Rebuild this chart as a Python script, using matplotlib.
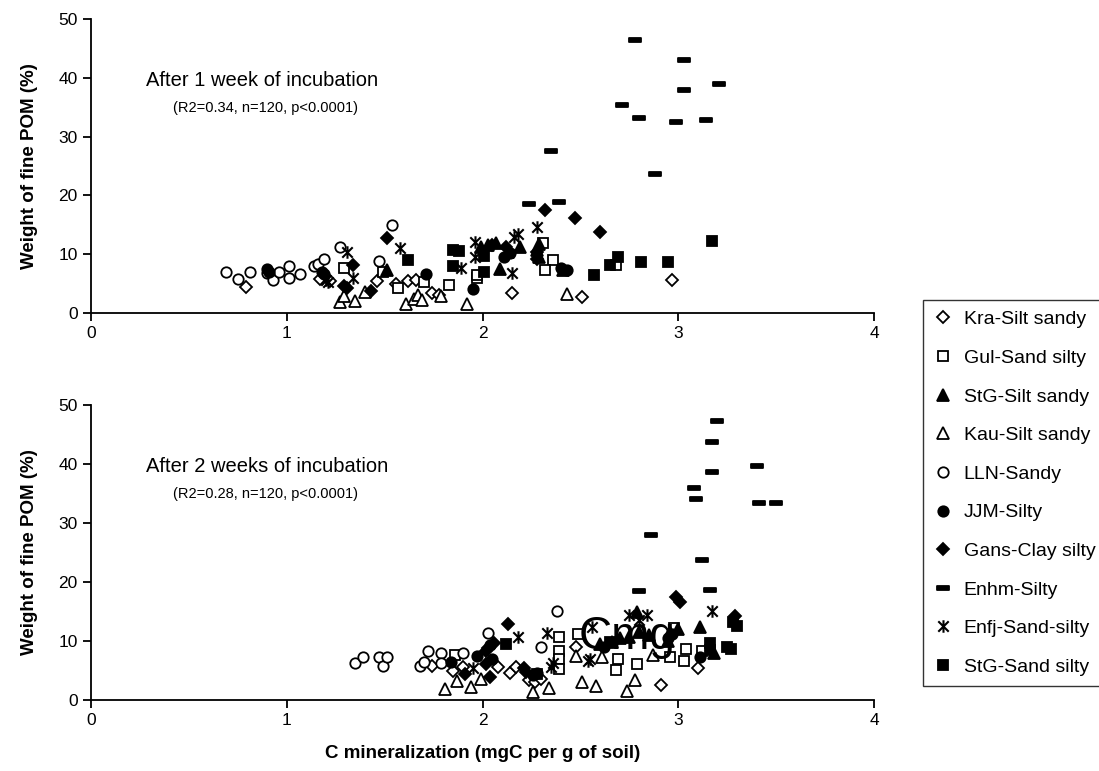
import matplotlib
matplotlib.use("Agg")
import matplotlib.pyplot as plt
from matplotlib.path import Path
from matplotlib.lines import Line2D

plt.rcParams['font.family'] = ['Liberation Sans', 'DejaVu Sans']

# soils in legend order
soils = ["Kra-Silt sandy", "Gul-Sand silty", "StG-Silt sandy", "Kau-Silt sandy", "LLN-Sandy",
         "JJM-Silty", "Gans-Clay silty", "Enhm-Silty", "Enfj-Sand-silty", "StG-Sand silty"]

# --- after 1 week ---
w1_kra_x = [0.79, 1.17, 1.22, 1.46, 1.56, 1.62, 1.66, 1.74, 1.78, 2.15, 2.51, 2.97]
w1_kra_y = [4.5, 5.8, 5.4, 5.4, 5.0, 5.4, 5.6, 3.4, 3.1, 3.4, 2.7, 5.6]
w1_gul_x = [1.29, 1.49, 1.57, 1.70, 1.83, 1.97, 1.97, 2.31, 2.36, 2.32, 2.68]
w1_gul_y = [7.6, 7.0, 4.2, 5.3, 4.7, 5.9, 6.4, 11.9, 9.0, 7.4, 8.2]
w1_stgsilt_x = [1.51, 1.99, 2.03, 2.07, 2.09, 2.19, 2.13, 2.28, 2.29, 2.41, 2.29]
w1_stgsilt_y = [7.4, 11.3, 11.5, 11.9, 7.5, 11.3, 10.4, 10.8, 11.8, 7.4, 9.6]
w1_kau_x = [1.27, 1.29, 1.35, 1.40, 1.61, 1.65, 1.67, 1.69, 1.79, 1.92, 2.43]
w1_kau_y = [1.9, 2.9, 2.0, 3.6, 1.5, 2.4, 3.0, 2.2, 2.9, 1.5, 3.3]
w1_lln_x = [0.69, 0.75, 0.81, 0.90, 0.93, 0.96, 1.01, 1.01, 1.07, 1.14, 1.16, 1.19, 1.27, 1.54, 1.47]
w1_lln_y = [7.0, 5.8, 7.0, 6.8, 5.6, 7.0, 8.0, 5.9, 6.6, 8.0, 8.3, 9.2, 11.2, 14.9, 8.8]
w1_jjm_x = [0.90, 0.91, 1.19, 1.18, 1.71, 1.95, 2.14, 2.11, 2.43, 2.40]
w1_jjm_y = [7.5, 7.0, 6.6, 6.9, 6.6, 4.1, 10.2, 9.5, 7.3, 7.6]
w1_gans_x = [2.32, 2.47, 2.60, 2.28, 2.28, 1.51, 1.34, 1.29, 1.43, 2.05, 2.12, 1.31]
w1_gans_y = [17.5, 16.1, 13.7, 9.2, 10.4, 12.7, 8.1, 4.6, 3.8, 11.5, 11.2, 4.2]
w1_enhm_x = [2.78, 3.03, 3.21, 3.03, 2.71, 2.80, 2.99, 3.14, 2.88, 2.35, 2.24, 2.39]
w1_enhm_y = [46.4, 43.0, 39.0, 38.0, 35.3, 33.2, 32.5, 32.9, 23.6, 27.5, 18.6, 18.8]
w1_enfj_x = [1.21, 1.31, 1.34, 1.58, 1.89, 1.96, 1.96, 2.15, 2.18, 2.28, 1.20, 2.16]
w1_enfj_y = [5.3, 10.3, 5.9, 11.0, 7.6, 12.0, 9.5, 6.8, 13.4, 14.7, 5.6, 13.0]
w1_stgsand_x = [3.17, 2.69, 2.65, 2.81, 2.95, 2.57, 1.85, 1.85, 2.01, 2.01, 1.62, 1.88]
w1_stgsand_y = [12.2, 9.5, 8.1, 8.6, 8.6, 6.4, 10.7, 8.0, 9.7, 6.9, 9.1, 10.6]

# --- after 2 weeks ---
w2_kra_x = [1.74, 1.85, 1.90, 2.08, 2.14, 2.17, 2.24, 2.27, 2.48, 2.91, 3.10, 2.30]
w2_kra_y = [5.8, 4.9, 5.6, 5.6, 4.6, 5.6, 3.4, 3.1, 9.0, 2.5, 5.4, 3.6]
w2_gul_x = [1.86, 2.28, 2.39, 2.39, 2.39, 2.39, 2.49, 2.69, 2.68, 2.79, 2.98, 3.04, 2.96, 3.03, 3.12]
w2_gul_y = [7.6, 4.4, 10.7, 8.3, 6.9, 5.3, 11.2, 6.9, 5.0, 6.1, 12.2, 8.6, 7.3, 6.6, 8.3]
w2_stgsilt_x = [2.60, 2.70, 2.75, 2.79, 2.80, 2.96, 3.11, 3.18, 2.66, 2.95, 2.85, 3.00]
w2_stgsilt_y = [9.5, 10.5, 10.7, 14.9, 11.5, 11.5, 12.4, 8.0, 9.8, 10.0, 11.0, 12.0]
w2_kau_x = [1.81, 1.87, 1.94, 1.99, 2.26, 2.34, 2.51, 2.58, 2.74, 2.78, 2.48, 2.61, 2.87]
w2_kau_y = [1.9, 3.2, 2.2, 3.6, 1.4, 2.0, 3.1, 2.4, 1.5, 3.4, 7.4, 7.3, 7.6]
w2_lln_x = [1.35, 1.39, 1.47, 1.49, 1.51, 1.68, 1.70, 1.72, 1.79, 1.79, 1.90, 2.03, 2.04, 2.30, 2.38]
w2_lln_y = [6.3, 7.3, 7.3, 5.8, 7.3, 5.8, 6.4, 8.3, 8.0, 6.3, 8.0, 11.4, 9.3, 9.0, 15.1]
w2_jjm_x = [1.84, 1.97, 2.26, 3.11, 2.97, 2.95, 2.05, 2.62, 2.28]
w2_jjm_y = [6.4, 7.5, 4.2, 7.3, 11.2, 10.5, 6.9, 9.0, 4.5]
w2_gans_x = [1.91, 2.02, 2.02, 2.04, 2.13, 2.21, 2.99, 3.01, 3.29, 2.03, 2.06, 2.22]
w2_gans_y = [4.4, 8.3, 6.1, 3.9, 12.9, 5.4, 17.5, 16.6, 14.2, 8.8, 9.6, 4.8]
w2_enhm_x = [3.20, 3.17, 3.40, 3.17, 3.08, 3.09, 3.41, 3.50, 2.86, 3.12, 2.80, 3.16]
w2_enhm_y = [47.3, 43.8, 39.7, 38.6, 35.9, 34.0, 33.4, 33.4, 28.0, 23.7, 18.4, 18.7]
w2_enfj_x = [1.95, 2.18, 2.33, 2.36, 2.54, 2.56, 2.75, 2.84, 3.17, 2.35, 2.55, 2.80]
w2_enfj_y = [5.4, 10.7, 11.3, 6.2, 6.6, 12.4, 14.4, 14.4, 15.1, 5.6, 7.0, 13.5]
w2_stgsand_x = [2.12, 2.65, 3.16, 3.16, 3.25, 3.27, 3.30, 3.28]
w2_stgsand_y = [9.5, 9.8, 9.7, 8.5, 9.0, 8.6, 12.5, 13.2]

week1 = [(w1_kra_x, w1_kra_y), (w1_gul_x, w1_gul_y), (w1_stgsilt_x, w1_stgsilt_y), (w1_kau_x, w1_kau_y),
         (w1_lln_x, w1_lln_y), (w1_jjm_x, w1_jjm_y), (w1_gans_x, w1_gans_y), (w1_enhm_x, w1_enhm_y),
         (w1_enfj_x, w1_enfj_y), (w1_stgsand_x, w1_stgsand_y)]
week2 = [(w2_kra_x, w2_kra_y), (w2_gul_x, w2_gul_y), (w2_stgsilt_x, w2_stgsilt_y), (w2_kau_x, w2_kau_y),
         (w2_lln_x, w2_lln_y), (w2_jjm_x, w2_jjm_y), (w2_gans_x, w2_gans_y), (w2_enhm_x, w2_enhm_y),
         (w2_enfj_x, w2_enfj_y), (w2_stgsand_x, w2_stgsand_y)]

# excel-like markers: asterisk = x with a vertical bar, dash = short thick bar
star = Path([(-1, -1), (1, 1), (-1, 1), (1, -1), (0, -1.2), (0, 1.2)],
            [Path.MOVETO, Path.LINETO, Path.MOVETO, Path.LINETO, Path.MOVETO, Path.LINETO])
bar = Path([(-1, -0.28), (1, -0.28), (1, 0.28), (-1, 0.28), (-1, -0.28)],
           [Path.MOVETO, Path.LINETO, Path.LINETO, Path.LINETO, Path.CLOSEPOLY])

styles = [
    dict(marker='D', ms=6.5, mfc='white', mew=1.3),
    dict(marker='s', ms=7, mfc='white', mew=1.3),
    dict(marker='^', ms=8, mfc='black', mew=1.3),
    dict(marker='^', ms=8, mfc='white', mew=1.3),
    dict(marker='o', ms=7.5, mfc='white', mew=1.3),
    dict(marker='o', ms=7.5, mfc='black', mew=1.3),
    dict(marker='D', ms=6.5, mfc='black', mew=1.3),
    dict(marker=bar, ms=8.5, mfc='black', mew=1.3),
    dict(marker=star, ms=9, mfc='none', mew=1.5),
    dict(marker='s', ms=7, mfc='black', mew=1.3),
]

fig = plt.figure(figsize=(10.99, 7.71), dpi=100)
ax1 = fig.add_axes([0.0828, 0.594, 0.7125, 0.3813])
ax2 = fig.add_axes([0.0828, 0.0921, 0.7125, 0.3826])

for ax, data in [(ax1, week1), (ax2, week2)]:
    for (x, y), st in zip(data, styles):
        ax.plot(x, y, linestyle='none', mec='black', **st)
    ax.set_xlim(0, 4)
    ax.set_ylim(0, 50)
    ax.set_xticks([0, 1, 2, 3, 4])
    ax.set_yticks([0, 10, 20, 30, 40, 50])
    ax.spines['top'].set_visible(False)
    ax.spines['right'].set_visible(False)
    ax.spines['left'].set_linewidth(1.3)
    ax.spines['bottom'].set_linewidth(1.3)
    ax.tick_params(direction='out', length=6, width=1.3, labelsize=12.5)
    ax.set_ylabel('Weight of fine POM (%)', fontsize=13.5, fontweight='bold', labelpad=15)

ax1.text(0.28, 39.5, 'After 1 week of incubation', fontsize=14.5, va='center')
ax1.text(0.42, 34.9, '(R2=0.34, n=120, p<0.0001)', fontsize=10.5, va='center')
ax2.text(0.28, 39.5, 'After 2 weeks of incubation', fontsize=14.5, va='center')
ax2.text(0.42, 34.9, '(R2=0.28, n=120, p<0.0001)', fontsize=10.5, va='center')
ax2.text(2.49, 8.6, 'Cmg', fontsize=33)

ax2.set_xlabel('C mineralization (mgC per g of soil)', fontsize=13.5, fontweight='bold', labelpad=12)

handles = [Line2D([], [], linestyle='none', mec='black', **st) for st in styles]
leg = fig.legend(handles, soils, loc='upper left', bbox_to_anchor=(923 / 1099, 1 - 300 / 771),
                 fontsize=14, frameon=True, fancybox=False, labelspacing=1.08, handlelength=1.0,
                 handletextpad=0.55, borderpad=0.55, borderaxespad=0)
leg.get_frame().set_edgecolor('black')
leg.get_frame().set_linewidth(1.0)

plt.savefig('out.png', dpi=100)
